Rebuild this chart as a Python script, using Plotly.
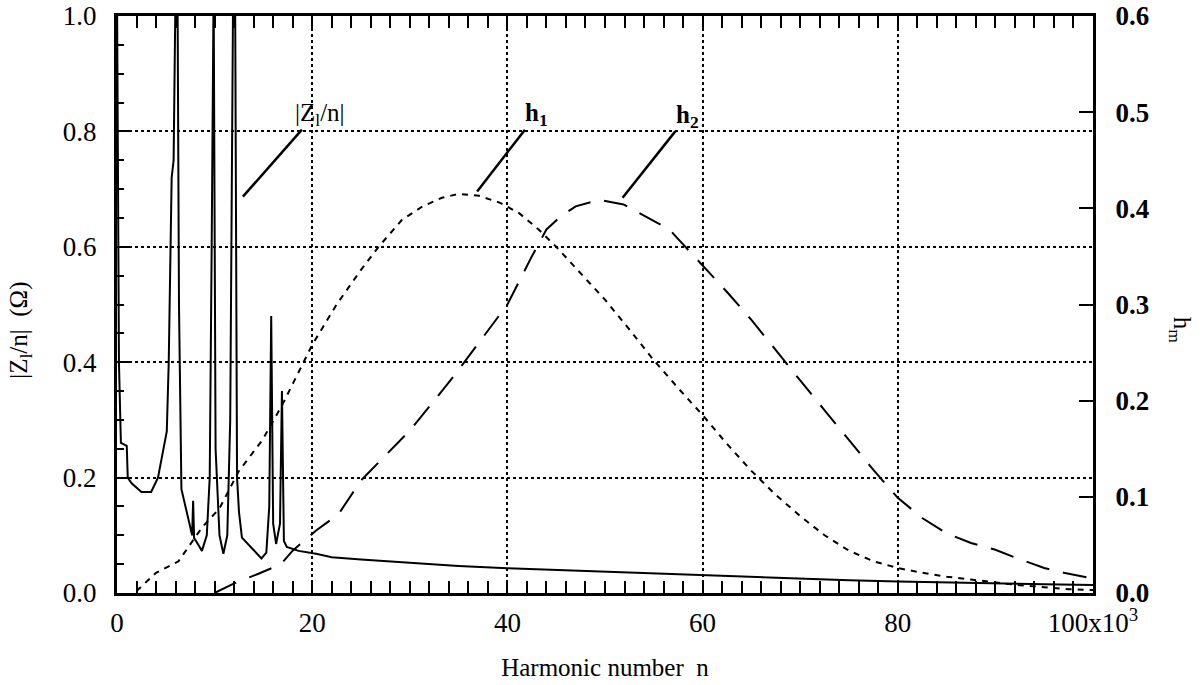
import plotly.graph_objects as go

# ---- data ----
z_n = [0.0, 0.2, 0.4, 1.0, 1.1, 1.5, 2.5, 3.5, 4.2, 4.6, 5.1, 5.3, 5.6, 5.8, 6.0, 6.2, 6.35, 6.6,
       7.0, 7.4, 7.7, 7.8, 7.9, 8.1, 8.7, 9.2, 9.5, 9.7, 9.9, 10.1, 10.5, 10.9, 11.3, 11.6, 11.9,
       12.1, 12.3, 12.5, 12.8, 13.8, 14.8, 15.3, 15.6, 15.8, 16.0, 16.3, 16.7, 16.9, 17.1, 17.4,
       18.6, 20.4, 22, 25, 30, 35, 40, 45, 50, 55, 60, 65, 70, 75, 80, 85, 90, 95, 100]
z_val = [1.05, 0.4, 0.26, 0.255, 0.2, 0.19, 0.175, 0.175, 0.2, 0.235, 0.28, 0.4, 0.72, 0.75, 1.05,
         1.05, 0.5, 0.18, 0.15, 0.125, 0.1, 0.16, 0.095, 0.09, 0.073, 0.1, 0.2, 0.6, 1.05, 0.25,
         0.1, 0.068, 0.1, 0.3, 1.05, 1.05, 0.2, 0.14, 0.096, 0.078, 0.06, 0.07, 0.15, 0.48, 0.12,
         0.085, 0.12, 0.35, 0.09, 0.08, 0.073, 0.068, 0.062, 0.058, 0.052, 0.047, 0.043, 0.04,
         0.036, 0.033, 0.03, 0.028, 0.024, 0.022, 0.02, 0.018, 0.016, 0.015, 0.014]

h1_n = [2, 4, 6.3, 8.7, 10.5, 12.5, 14.9, 17, 20, 22.5, 25, 26.8, 29.2, 31.3, 33.3, 35, 37.1, 39.2,
        41.2, 43.2, 45, 47.5, 50, 52.5, 55, 57.5, 60, 62.5, 65, 67.5, 70, 72.5, 75, 77.5, 80, 82.5,
        85, 87.5, 90, 92.5, 95, 97.5, 100]
h1_val = [0.002, 0.021, 0.033, 0.068, 0.088, 0.127, 0.159, 0.197, 0.258, 0.30, 0.336, 0.36, 0.388,
          0.402, 0.411, 0.415, 0.413, 0.406, 0.395, 0.378, 0.36, 0.333, 0.305, 0.274, 0.242, 0.213,
          0.185, 0.155, 0.127, 0.102, 0.08, 0.06, 0.044, 0.033, 0.026, 0.021, 0.017, 0.014, 0.011,
          0.008, 0.006, 0.004, 0.003]

h2_n = [10, 12, 14.5, 16.8, 18, 20.4, 22.7, 25, 27.5, 30, 32.5, 35, 37.5, 40, 42.5, 44, 45.5, 47,
        49.4, 51.9, 53.9, 56.6, 57.6, 60, 62.5, 65, 67.5, 70, 72.5, 75, 77.5, 80, 82.5, 85, 87.5,
        90, 92, 95, 97, 100]
h2_val = [0.0, 0.01, 0.02, 0.03, 0.044, 0.065, 0.082, 0.117, 0.143, 0.169, 0.2, 0.232, 0.266, 0.3,
          0.35, 0.378, 0.392, 0.402, 0.409, 0.404, 0.393, 0.378, 0.367, 0.341, 0.313, 0.284, 0.252,
          0.221, 0.19, 0.159, 0.128, 0.099, 0.078, 0.062, 0.052, 0.045, 0.037, 0.026, 0.021, 0.015]

x_tickvals = [0, 20, 40, 60, 80, 100]
x_ticktext = ["0", "20", "40", "60", "80", "100x10<sup>3</sup>"]
yl_tickvals = [0.0, 0.2, 0.4, 0.6, 0.8, 1.0]
yl_ticktext = ["0.0", "0.2", "0.4", "0.6", "0.8", "1.0"]
yr_tickvals = [0.0, 0.1, 0.2, 0.3, 0.4, 0.5, 0.6]
yr_ticktext = ["0.0", "0.1", "0.2", "0.3", "0.4", "0.5", "0.6"]

FONT = "Liberation Serif"
TICK = 27

fig = go.Figure()
fig.add_trace(go.Scatter(x=z_n, y=z_val, mode="lines", yaxis="y",
                         line=dict(color="black", width=2), showlegend=False))
fig.add_trace(go.Scatter(x=h1_n, y=h1_val, mode="lines", yaxis="y2",
                         line=dict(color="black", width=2, dash="6px,6px"), showlegend=False))
fig.add_trace(go.Scatter(x=h2_n, y=h2_val, mode="lines", yaxis="y2",
                         line=dict(color="black", width=2, dash="24px,14px"), showlegend=False))

fig.update_layout(
    width=1203, height=685,
    margin=dict(l=117, r=110, t=16, b=92),
    paper_bgcolor="white", plot_bgcolor="white",
    font=dict(family=FONT, size=TICK, color="black"),
    xaxis=dict(range=[0, 100], tickvals=x_tickvals, ticktext=x_ticktext, automargin=False,
               ticks="inside", ticklen=12, tickwidth=2, tickcolor="black",
               showline=True, linewidth=3, linecolor="black", mirror="allticks",
               showgrid=True, gridcolor="black", griddash="dot", gridwidth=1.5,
               zeroline=False, ticklabelstandoff=4,
               tickfont=dict(family=FONT, size=TICK, color="black"),
               minor=dict(dtick=2, ticks="inside", ticklen=6, tickwidth=2, tickcolor="black",
                          showgrid=False),
               title=dict(text="Harmonic number  n",
                          font=dict(family=FONT, size=25, color="black"), standoff=22)),
    xaxis3=dict(range=[0, 100], overlaying="x", anchor="y", side="bottom", automargin=False,
                dtick=10, tick0=0, ticks="inside", ticklen=9, tickwidth=2, tickcolor="black",
                showticklabels=False, showgrid=False, zeroline=False, mirror="allticks",
                showline=False),
    yaxis=dict(range=[0, 1.0], tickvals=yl_tickvals, ticktext=yl_ticktext, automargin=False,
               ticks="inside", ticklen=14, tickwidth=2, tickcolor="black",
               showline=True, linewidth=3, linecolor="black",
               showgrid=True, gridcolor="black", griddash="dot", gridwidth=1.5,
               zeroline=False, ticklabelstandoff=12,
               tickfont=dict(family=FONT, size=TICK, color="black"),
               minor=dict(dtick=0.05, ticks="inside", ticklen=7, tickwidth=2,
                          tickcolor="black", showgrid=False)),
    yaxis2=dict(range=[0, 0.6], tickvals=yr_tickvals, ticktext=yr_ticktext, automargin=False,
                overlaying="y", side="right", anchor="x",
                ticks="inside", ticklen=14, tickwidth=2, tickcolor="black",
                showline=True, linewidth=3, linecolor="black",
                showgrid=False, zeroline=False, ticklabelstandoff=14,
                tickfont=dict(family=FONT, size=TICK, color="black", weight="bold")),
)

# axis titles as annotations
fig.add_annotation(text="|Z<sub>l</sub>/n|  (Ω)", xref="paper", yref="paper",
                   x=-0.099, y=0.455, textangle=-90, showarrow=False,
                   font=dict(family=FONT, size=25, color="black"),
                   xanchor="center", yanchor="middle")
fig.add_annotation(text="h<sub>m</sub>", xref="paper", yref="paper",
                   x=1.09, y=0.455, textangle=90, showarrow=False,
                   font=dict(family=FONT, size=25, color="black"),
                   xanchor="center", yanchor="middle")

# curve labels with leader lines
labels = [
    ("|Z<sub>l</sub>/n|", 20.8, 0.83, 12.9, 0.687, 18.95, 0.803),
    ("<b>h<sub>1</sub></b>", 43.0, 0.83, 36.9, 0.696, 41.8, 0.803),
    ("<b>h<sub>2</sub></b>", 58.5, 0.825, 51.8, 0.685, 57.2, 0.800),
]
for txt, tx, ty, x0, y0, x1, y1 in labels:
    fig.add_annotation(text=txt, x=tx, y=ty, xref="x", yref="y", showarrow=False,
                       font=dict(family=FONT, size=25, color="black"),
                       xanchor="center", yanchor="middle")
    fig.add_shape(type="line", xref="x", yref="y", x0=x0, y0=y0, x1=x1, y1=y1,
                  line=dict(color="black", width=2.5))

fig.write_html("out.html")
